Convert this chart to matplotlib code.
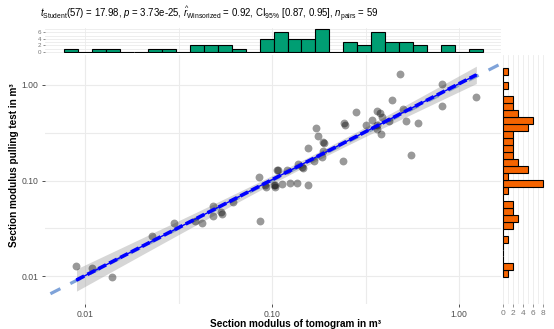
import numpy as np
import matplotlib
matplotlib.use("Agg")
import matplotlib.pyplot as plt

plt.rcParams["font.family"] = ["Liberation Sans", "DejaVu Sans"]
plt.rcParams["mathtext.fontset"] = "custom"
plt.rcParams["mathtext.rm"] = "Liberation Sans"
plt.rcParams["mathtext.it"] = "Liberation Sans:italic"
plt.rcParams["mathtext.bf"] = "Liberation Sans:bold"

# section modulus in m³: tomogram (x) vs pulling test (y)
tomogram = [0.0090, 0.0109, 0.0139, 0.0229, 0.0298, 0.0387, 0.0421, 0.0482, 0.0485,
            0.0532, 0.0539, 0.0617, 0.0865, 0.0849, 0.0925, 0.1031, 0.1037, 0.1059,
            0.1076, 0.1130, 0.1247, 0.1355, 0.1563, 0.1555, 0.1371, 0.1442, 0.1469,
            0.1663, 0.1718, 0.1750, 0.1879, 0.1897, 0.1858, 0.1845, 0.2377, 0.2410,
            0.2449, 0.2812, 0.3162, 0.3622, 0.3758, 0.3873, 0.3631, 0.3642, 0.3802,
            0.4188, 0.4385, 0.4831, 0.5020, 0.5537, 0.6048, 0.8091, 0.8110, 1.233,
            0.0918, 0.1019, 0.1202, 0.3428, 0.5212]
pulling = [0.01282, 0.01205, 0.00976, 0.02624, 0.03631, 0.03793, 0.0362, 0.05408, 0.04246,
           0.04713, 0.04428, 0.06026, 0.03767, 0.1096, 0.08453, 0.08974, 0.08650, 0.1288,
           0.1274, 0.09183, 0.09354, 0.09484, 0.09078, 0.2173, 0.1479, 0.1396, 0.1352,
           0.1618, 0.3589, 0.2958, 0.2529, 0.2455, 0.2061, 0.1750, 0.1600, 0.3999,
           0.3784, 0.5176, 0.3811, 0.5383, 0.5058, 0.4571, 0.3784, 0.3459, 0.3090,
           0.4198, 0.6966, 1.294, 0.561, 0.1849, 0.3972, 1.016, 0.6067, 0.7482,
           0.0887, 0.0908, 0.1274, 0.4305, 0.4198]

# marginal histograms (30 bins on log10 scale)
x_counts = [1, 0, 1, 1, 0, 0, 1, 1, 0, 2, 2, 2, 1, 0, 4, 6, 4, 4, 7, 0,
            3, 2, 6, 3, 3, 2, 0, 2, 0, 1]
x_bin_start, x_bin_width = -2.11, 0.0745
y_counts = [1, 2, 0, 0, 0, 1, 0, 2, 3, 2, 2, 0, 1, 8, 1, 5, 3, 2, 2, 2,
            2, 5, 6, 3, 2, 2, 0, 1, 0, 1]   # bottom -> top
y_bin_start, y_bin_width = -2.014, 0.073

log_ticks = [0.01, 0.1, 1.0]
log_tick_labels = ["0.01", "0.10", "1.00"]
log_minor = [10 ** -1.5, 10 ** -0.5]

title = (r"$t_{\mathrm{Student}}$(57) = 17.98, $p$ = 3.73e-25, "
         r"$\widehat{r}_{\mathrm{Winsorized}}$ = 0.92, CI$_{95\%}$ [0.87, 0.95], "
         r"$n_{\mathrm{pairs}}$ = 59")

grid_c = "#EBEBEB"
tick_c = "#4D4D4D"
green = "#009E73"
orange = "#F56400"

W, H = 554, 329
fig = plt.figure(figsize=(W / 100, H / 100), dpi=100)


def box(l, r, t, b):
    return [l / W, 1 - b / H, (r - l) / W, (b - t) / H]


ax = fig.add_axes(box(45, 501, 55, 304))
ax_top = fig.add_axes(box(45, 501, 28, 53), sharex=ax)
ax_right = fig.add_axes(box(501, 545.3, 55, 304), sharey=ax)

for a in (ax, ax_top, ax_right):
    for s in a.spines.values():
        s.set_visible(False)
    a.set_axisbelow(True)

ax.set_xscale("log")
ax.set_yscale("log")
ax.set_xlim(0.00611, 1.67)
ax.set_ylim(0.0051, 2.06)

lx = np.log10(tomogram)
ly = np.log10(pulling)

# identity line
ref = np.array([0.004, 2.5])
ax.plot(ref, ref, color="#7FA3D9", lw=2.3, dashes=(3.5, 3.5), zorder=1)

# linear fit on log scale with 95% CI
n = len(lx)
slope, intercept = np.polyfit(lx, ly, 1)
xs = np.linspace(lx.min(), lx.max(), 100)
fit = intercept + slope * xs
resid = ly - (intercept + slope * lx)
s_err = np.sqrt(np.sum(resid ** 2) / (n - 2))
se = s_err * np.sqrt(1 / n + (xs - lx.mean()) ** 2 / np.sum((lx - lx.mean()) ** 2))
tcrit = 2.0025
ax.fill_between(10 ** xs, 10 ** (fit - tcrit * se), 10 ** (fit + tcrit * se),
                color="#999999", alpha=0.4, lw=0, zorder=2)
ax.scatter(tomogram, pulling, s=32, color="black", alpha=0.4, lw=0, zorder=3)
ax.plot(10 ** xs, 10 ** fit, color="blue", lw=1.0, zorder=4)
ax.plot(10 ** xs, 10 ** fit, color="blue", lw=2.6, dashes=(2.4, 1.0), zorder=5)

ax.set_xticks(log_ticks)
ax.set_xticklabels(log_tick_labels)
ax.set_yticks(log_ticks)
ax.set_yticklabels(log_tick_labels)
ax.set_xticks(log_minor, minor=True)
ax.set_yticks(log_minor, minor=True)
ax.tick_params(which="major", length=2.5, width=0.6, color="#333333",
               labelsize=6.2, labelcolor=tick_c, pad=2)
ax.tick_params(which="minor", length=0)
ax.grid(True, which="both", color=grid_c, lw=0.8)

# axis titles span the main panel plus side panels
fig.text(295 / W, 1 - 324 / H, "Section modulus of tomogram in m³", fontsize=7.2,
         fontweight="bold", ha="center", va="center")
fig.text(14 / W, 1 - 165 / H, "Section modulus pulling test in m³", fontsize=7.2,
         fontweight="bold", ha="center", va="center", rotation=90)

# top marginal histogram
x_edges = x_bin_start + x_bin_width * np.arange(len(x_counts) + 1)
ax_top.bar(10 ** x_edges[:-1], x_counts, width=10 ** x_edges[1:] - 10 ** x_edges[:-1],
           align="edge", color=green, edgecolor="black", lw=0.8)
ax_top.set_ylim(-0.35, 7.35)
ax_top.set_yticks([0, 2, 4, 6])
ax_top.set_yticks([1, 3, 5, 7], minor=True)
ax_top.tick_params(axis="y", which="major", length=1.5, width=0.5, color="#666666",
                   labelsize=4.5, labelcolor="#777777", pad=1)
ax_top.tick_params(axis="y", which="minor", length=0)
ax_top.tick_params(axis="x", which="both", length=0, labelbottom=False)
ax_top.grid(True, which="both", color=grid_c, lw=0.6)

# right marginal histogram
y_edges = y_bin_start + y_bin_width * np.arange(len(y_counts) + 1)
ax_right.barh(10 ** y_edges[:-1], y_counts, height=10 ** y_edges[1:] - 10 ** y_edges[:-1],
              align="edge", color=orange, edgecolor="black", lw=0.8)
ax_right.set_xlim(-0.4, 8.4)
ax_right.set_xticks([0, 2, 4, 6, 8])
ax_right.set_xticks([1, 3, 5, 7], minor=True)
ax_right.tick_params(axis="x", which="major", length=2.5, width=0.5, color="#666666",
                     labelsize=6, labelcolor="#777777", pad=2)
ax_right.tick_params(axis="x", which="minor", length=0)
ax_right.tick_params(axis="y", which="both", length=0, labelleft=False)
ax_right.grid(True, axis="x", which="both", color=grid_c, lw=0.6)

fig.text(40 / W, 1 - 18 / H, title, fontsize=6.9, ha="left", va="baseline")

fig.savefig("out.png", dpi=100)
